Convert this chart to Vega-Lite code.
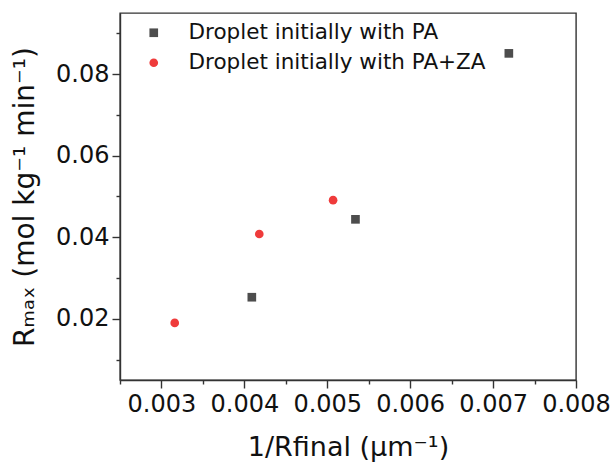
{
  "$schema": "https://vega.github.io/schema/vega-lite/v6.json",
  "autosize": {"type": "none"},
  "padding": {"left": 120, "top": 13, "right": 35, "bottom": 86},
  "width": 456,
  "height": 367,
  "config": {
    "view": {"stroke": "#333333", "strokeWidth": 1.4},
    "font": "DejaVu Sans",
    "axis": {"domainColor": "#333333", "tickColor": "#333333", "domainWidth": 1.4, "tickWidth": 1.4, "grid": false, "labelColor": "#111", "titleColor": "#111", "labelFont": "DejaVu Sans", "titleFont": "DejaVu Sans", "titleFontWeight": "normal"}
  },
  "data": {
    "values": [
      {"x": 0.00409, "y": 0.0253, "series": "Droplet initially with PA"},
      {"x": 0.00534, "y": 0.0444, "series": "Droplet initially with PA"},
      {"x": 0.00719, "y": 0.0851, "series": "Droplet initially with PA"},
      {"x": 0.00316, "y": 0.0190, "series": "Droplet initially with PA+ZA"},
      {"x": 0.00418, "y": 0.0408, "series": "Droplet initially with PA+ZA"},
      {"x": 0.00507, "y": 0.0491, "series": "Droplet initially with PA+ZA"}
    ]
  },
  "layer": [
    {
      "mark": {"type": "point", "filled": true, "opacity": 1, "size": 75},
      "encoding": {
        "x": {"field": "x", "type": "quantitative", "scale": {"domain": [0.0025, 0.008], "nice": false, "zero": false},
          "axis": {"orient": "bottom", "values": [0.003, 0.004, 0.005, 0.006, 0.007, 0.008], "format": ".3f", "labelFontSize": 24, "tickSize": 8, "labelPadding": 4, "title": "1/Rfinal (μm⁻¹)", "titleFontSize": 27, "titlePadding": 18, "labelFlush": false, "labelOverlap": false}},
        "y": {"field": "y", "type": "quantitative", "scale": {"domain": [0.005, 0.095], "nice": false, "zero": false},
          "axis": {"orient": "left", "values": [0.02, 0.04, 0.06, 0.08], "format": ".2f", "labelFontSize": 24, "tickSize": 8, "labelPadding": 3, "title": "Rₘₐₓ (mol kg⁻¹ min⁻¹)", "titleFontSize": 28, "titlePadding": 16, "labelFlush": false, "labelOverlap": false}},
        "color": {"field": "series", "type": "nominal", "scale": {"domain": ["Droplet initially with PA", "Droplet initially with PA+ZA"], "range": ["#4d4d4d", "#ef3b3b"]},
          "legend": {"orient": "none", "legendX": 23, "legendY": 9, "title": null, "labelFontSize": 21.5, "labelFont": "DejaVu Sans", "labelColor": "#111", "labelOffset": 24, "labelLimit": 0, "rowPadding": 7, "padding": 0, "symbolSize": 75, "strokeColor": null}},
        "shape": {"field": "series", "type": "nominal", "scale": {"domain": ["Droplet initially with PA", "Droplet initially with PA+ZA"], "range": ["square", "circle"]}}
      }
    },
    {
      "mark": {"type": "point", "opacity": 0},
      "encoding": {
        "x": {"field": "x", "type": "quantitative", "scale": {"domain": [0.0025, 0.008], "nice": false, "zero": false},
          "axis": {"orient": "bottom", "values": [0.0025, 0.0035, 0.0045, 0.0055, 0.0065, 0.0075], "labels": false, "domain": false, "tickSize": 4, "title": null}},
        "y": {"field": "y", "type": "quantitative", "scale": {"domain": [0.005, 0.095], "nice": false, "zero": false},
          "axis": {"orient": "left", "values": [0.01, 0.03, 0.05, 0.07, 0.09], "labels": false, "domain": false, "tickSize": 4, "title": null}}
      }
    }
  ],
  "resolve": {"axis": {"x": "independent", "y": "independent"}}
}
